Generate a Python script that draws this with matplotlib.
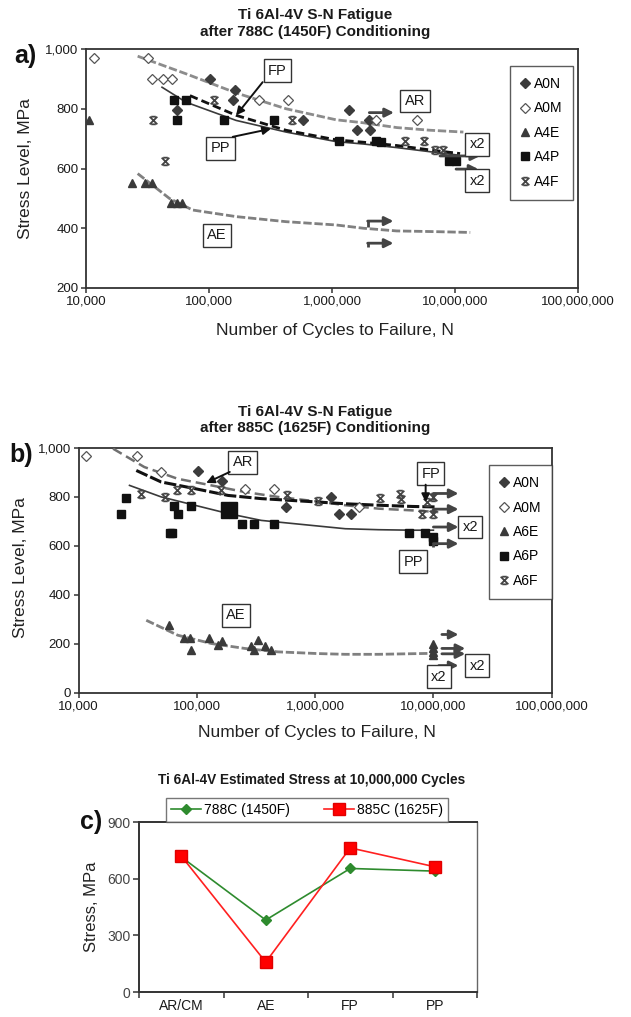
import matplotlib
matplotlib.use('Agg')
import matplotlib.pyplot as plt
from matplotlib.path import Path
from matplotlib.ticker import NullLocator, FixedLocator

plt.rcParams['font.family'] = ['Liberation Sans', 'DejaVu Sans']

# ---------------- data ----------------
xtick_values = [1e4, 1e5, 1e6, 1e7, 1e8]
xtick_labels = ['10,000', '100,000', '1,000,000', '10,000,000', '100,000,000']

# Panel a (788C)
a_A0N_N = [102e3, 162e3, 157e3, 55e3, 578e3, 1.37e6, 1.61e6, 2.04e6, 2.0e6]
a_A0N_S = [898, 863, 830, 797, 761, 797, 728, 728, 761]
a_A0M_N = [11.7e3, 31.7e3, 34.2e3, 42.5e3, 50e3, 254e3, 441e3, 2.3e6, 4.94e6]
a_A0M_S = [969, 969, 898, 898, 898, 830, 830, 761, 761]
a_A4E_N = [10.5e3, 23.7e3, 30.3e3, 34.4e3, 49e3, 54.6e3, 60e3]
a_A4E_S = [761, 553, 553, 553, 486, 486, 486]
a_A4P_N = [51.6e3, 65e3, 55e3, 133e3, 340e3, 1.13e6, 2.3e6, 2.5e6, 9.0e6, 10.2e6]
a_A4P_S = [830, 830, 761, 761, 761, 691, 691, 689, 624, 624]
a_A4F_N = [35.2e3, 43.8e3, 110e3, 473e3, 3.93e6, 5.64e6, 6.9e6, 8.0e6]
a_A4F_S = [761, 624, 830, 761, 691, 691, 661, 661]

a_AR_N = [26.3e3, 65e3, 166e3, 423e3, 1.08e6, 1.8e6, 3.36e6, 6.3e6, 11.7e6]
a_AR_S = [976, 917, 853, 800, 763, 753, 737, 728, 722]
a_FP_N = [70e3, 166e3, 423e3, 1.08e6, 1.8e6, 3.36e6, 6.3e6, 11e6]
a_FP_S = [844, 778, 728, 696, 688, 677, 662, 650]
a_PP_N = [41.5e3, 65e3, 166e3, 423e3, 1.08e6, 1.8e6, 3.36e6, 6.3e6, 10.5e6]
a_PP_S = [872, 822, 761, 722, 690, 682, 670, 656, 645]
a_AE_N = [26.3e3, 34.8e3, 47.6e3, 73.6e3, 166e3, 423e3, 1.08e6, 1.8e6, 3.36e6, 6.3e6, 13.3e6]
a_AE_S = [583, 544, 500, 461, 439, 422, 411, 400, 391, 389, 386]

# Panel b (885C)
b_A0N_N = [103e3, 163e3, 570e3, 1.37e6, 1.58e6, 2.02e6]
b_A0N_S = [903, 865, 758, 799, 728, 728]
b_A0M_N = [11.6e3, 31.4e3, 50e3, 254e3, 449e3, 2.33e6]
b_A0M_S = [965, 965, 901, 830, 830, 758]
b_A6E_N = [57.8e3, 78e3, 87e3, 90e3, 126e3, 151e3, 163e3, 289e3, 304e3, 329e3, 374e3, 427e3,
           10e6, 10e6, 10e6, 10e6]
b_A6E_S = [275, 224, 224, 173, 224, 193, 211, 189, 173, 214, 189, 173, 197, 182, 167, 152]
b_A6P_N = [22.7e3, 25e3, 59e3, 62e3, 64e3, 70e3, 89e3, 174e3, 202e3, 174e3, 202e3, 241e3,
           304e3, 449e3, 6.18e6, 8.55e6, 9.86e6, 9.86e6]
b_A6P_S = [728, 795, 653, 653, 761, 728, 761, 761, 761, 728, 728, 690, 690, 690, 653, 653, 635, 618]
b_A6F_N = [34e3, 54e3, 68e3, 90e3, 161e3, 582e3, 1.06e6, 3.56e6, 5.25e6, 5.35e6, 8e6, 9.86e6,
           8.8e6, 9.86e6]
b_A6F_S = [812, 799, 829, 829, 829, 806, 781, 796, 812, 792, 731, 731, 780, 800]

b_AR_N = [19.6e3, 36e3, 69e3, 133e3, 254e3, 485e3, 1.06e6, 1.8e6, 3.44e6, 6.6e6, 11e6]
b_AR_S = [996, 921, 873, 846, 819, 799, 780, 765, 751, 744, 737]
b_FP_N = [30.8e3, 50e3, 96e3, 184e3, 351e3, 1.06e6, 1.8e6, 3.44e6, 6.6e6, 10.5e6]
b_FP_S = [907, 860, 833, 805, 792, 778, 771, 765, 760, 758]
b_PP_N = [27e3, 50e3, 96e3, 184e3, 351e3, 1.06e6, 1.8e6, 3.44e6, 6.6e6, 10e6]
b_PP_S = [846, 799, 765, 731, 703, 680, 669, 665, 663, 663]
b_AE_N = [37.4e3, 69e3, 133e3, 254e3, 485e3, 1.06e6, 1.8e6, 3.44e6, 10e6]
b_AE_S = [295, 234, 200, 180, 166, 159, 156, 156, 160]

# Panel c
c_categories = ['AR/CM', 'AE', 'FP', 'PP']
c_788 = [715, 381, 654, 640]
c_885 = [720, 158, 763, 663]

# annotations (label, N, S)
a_boxes = [("FP", 361e3, 928), ("PP", 124e3, 667), ("AE", 116e3, 376),
           ("AR", 4.73e6, 826), ("x2", 15.2e6, 681), ("x2", 15.2e6, 559)]
a_pointers = [((273e3, 889), (166e3, 778)), ((156e3, 706), (319e3, 733))]
a_runouts = [(2.01e6, 3.19e6, 787, 0), (7.55e6, 16e6, 642, 0), (10.2e6, 15.5e6, 598, 0),
             (1.95e6, 3.16e6, 424, 19), (1.95e6, 3.16e6, 350, 14)]

b_boxes = [("AR", 245e3, 941), ("AE", 213e3, 316), ("FP", 9.49e6, 894), ("PP", 6.77e6, 535),
           ("x2", 20.5e6, 676), ("x2", 23.5e6, 109), ("x2", 11.1e6, 64)]
b_pointers = [((190e3, 901), (120e3, 856)), ((8.6e6, 849), (8.6e6, 778))]
b_runouts = [(10e6, 16.3e6, 813, 27), (10e6, 16.3e6, 749, 20), (10e6, 16.3e6, 676, 0),
             (10e6, 16.3e6, 608, 15), (11.8e6, 16.3e6, 237, 0), (11.8e6, 18.6e6, 180, 0),
             (11.8e6, 18.6e6, 158, 0), (11.1e6, 16.3e6, 110, 0)]

# ---------------- figure ----------------
W, H = 631, 1017
fig = plt.figure(figsize=(W / 100, H / 100), dpi=100)


def ax_from_px(l, t, r, b):
    return fig.add_axes([l / W, 1 - b / H, (r - l) / W, (b - t) / H])


axa = ax_from_px(86, 49, 578, 288)
axb = ax_from_px(78.5, 447.7, 551.7, 692.5)
axc = ax_from_px(139, 822, 477, 992)

star = Path([(-1, -1), (1, 1), (-1, 1), (1, -1), (-0.6, 1), (0.6, 1), (-0.6, -1), (0.6, -1)],
            [Path.MOVETO, Path.LINETO] * 4)

TXT = '#1a1a1a'


def style_sn(ax, ylim, yticks):
    ax.set_xscale('log')
    ax.set_xlim(1e4, 1e8)
    ax.set_ylim(*ylim)
    ax.xaxis.set_major_locator(FixedLocator(xtick_values))
    ax.set_xticklabels(xtick_labels)
    ax.xaxis.set_minor_locator(NullLocator())
    ax.set_yticks(yticks)
    ax.set_yticklabels([f'{v:,}' for v in yticks])
    ax.tick_params(direction='out', length=3.5, width=1.1, labelsize=9.5, colors='#333',
                   labelcolor=TXT, pad=2)
    for sp in ax.spines.values():
        sp.set_color('#333')
        sp.set_linewidth(1.3)


def series(ax, names, data):
    styles = [
        dict(marker='D', ms=4.6, mfc='#3c3c3c', mec='#3c3c3c'),
        dict(marker='D', ms=4.6, mfc='white', mec='#555555', mew=0.9),
        dict(marker='^', ms=6, mfc='#3a3a3a', mec='#3a3a3a'),
        dict(marker='s', ms=5.6, mfc='#111111', mec='#111111'),
        dict(marker=star, ms=5.5, mfc='none', mec='#444444', mew=1.3),
    ]
    handles = []
    for nm, (xs, ys), st in zip(names, data, styles):
        h, = ax.plot(xs, ys, ls='none', label=nm, zorder=4, **st)
        handles.append(h)
    return handles


def boxes(ax, items, fs=10.5):
    for lab, x, y in items:
        ax.text(x, y, lab, ha='center', va='center', fontsize=fs, color=TXT, zorder=6,
                bbox=dict(boxstyle='square,pad=0.3', fc='white', ec='#333', lw=1.0))


def pointers(ax, items):
    for tail, tip in items:
        ax.annotate('', xy=tip, xytext=tail, zorder=7,
                    arrowprops=dict(arrowstyle='-|>', color='#111', lw=1.4,
                                    mutation_scale=12, shrinkA=0, shrinkB=0))


def runouts(ax, items):
    for x0, x1, y, hook in items:
        if hook:
            ax.plot([x0, x0], [y - hook, y], color='#444', lw=2, solid_capstyle='butt', zorder=5)
        ax.annotate('', xy=(x1, y), xytext=(x0, y), zorder=5,
                    arrowprops=dict(arrowstyle='-|>', color='#444', lw=2,
                                    mutation_scale=13, shrinkA=0, shrinkB=0))


# ---- panel a ----
style_sn(axa, (200, 1000), [200, 400, 600, 800, 1000])
axa.plot(a_AR_N, a_AR_S, color='#8c8c8c', lw=2, ls=(0, (3, 1)), zorder=3)
axa.plot(a_AE_N, a_AE_S, color='#808080', lw=2, ls=(0, (3, 1)), zorder=3)
axa.plot(a_PP_N, a_PP_S, color='#3a3a3a', lw=1.2, zorder=3)
axa.plot(a_FP_N, a_FP_S, color='#111', lw=2, ls=(0, (3, 1.5)), zorder=3)
ha = series(axa, ['A0N', 'A0M', 'A4E', 'A4P', 'A4F'],
            [(a_A0N_N, a_A0N_S), (a_A0M_N, a_A0M_S), (a_A4E_N, a_A4E_S),
             (a_A4P_N, a_A4P_S), (a_A4F_N, a_A4F_S)])
runouts(axa, a_runouts)
boxes(axa, a_boxes)
pointers(axa, a_pointers)
leg = axa.legend(handles=ha, loc='upper left', bbox_to_anchor=(0.862, 0.929), fontsize=10,
                 frameon=True, fancybox=False, edgecolor='#333', handlelength=0.6,
                 handletextpad=0.3, labelspacing=0.75, borderpad=0.8, borderaxespad=0)
leg.get_frame().set_linewidth(1.0)

# ---- panel b ----
style_sn(axb, (0, 1000), [0, 200, 400, 600, 800, 1000])
axb.plot(b_AR_N, b_AR_S, color='#707070', lw=1.8, ls=(0, (4, 2)), zorder=3)
axb.plot(b_AE_N, b_AE_S, color='#808080', lw=2, ls=(0, (3, 1)), zorder=3)
axb.plot(b_PP_N, b_PP_S, color='#3a3a3a', lw=1.2, zorder=3)
axb.plot(b_FP_N, b_FP_S, color='#111', lw=2.2, ls=(0, (4, 1)), zorder=3)
hb = series(axb, ['A0N', 'A0M', 'A6E', 'A6P', 'A6F'],
            [(b_A0N_N, b_A0N_S), (b_A0M_N, b_A0M_S), (b_A6E_N, b_A6E_S),
             (b_A6P_N, b_A6P_S), (b_A6F_N, b_A6F_S)])
runouts(axb, b_runouts)
boxes(axb, b_boxes)
pointers(axb, b_pointers)
leg = axb.legend(handles=hb, loc='upper left', bbox_to_anchor=(0.8675, 0.929), fontsize=10,
                 frameon=True, fancybox=False, edgecolor='#333', handlelength=0.6,
                 handletextpad=0.3, labelspacing=0.75, borderpad=0.8, borderaxespad=0)
leg.get_frame().set_linewidth(1.0)

# ---- titles / labels for a, b ----
for (ycen, txt) in [(23.5, 'Ti 6Al-4V S-N Fatigue\nafter 788C (1450F) Conditioning'),
                    (420, 'Ti 6Al-4V S-N Fatigue\nafter 885C (1625F) Conditioning')]:
    fig.text(315 / W, 1 - ycen / H, txt, ha='center', va='center', fontsize=11,
             fontweight='bold', color=TXT, linespacing=1.25)

fig.text(335 / W, 1 - 330 / H, 'Number of Cycles to Failure, N', ha='center', va='center',
         fontsize=12.5, color='#222')
fig.text(317 / W, 1 - 732 / H, 'Number of Cycles to Failure, N', ha='center', va='center',
         fontsize=12.5, color='#222')
fig.text(26 / W, 1 - 168.5 / H, 'Stress Level, MPa', ha='center', va='center', rotation=90,
         fontsize=12.5, color='#222')
fig.text(21 / W, 1 - 568 / H, 'Stress Level, MPa', ha='center', va='center', rotation=90,
         fontsize=12.5, color='#222')
fig.text(25 / W, 1 - 56 / H, 'a)', ha='center', va='center', fontsize=18, fontweight='bold',
         color='#111')
fig.text(21 / W, 1 - 455 / H, 'b)', ha='center', va='center', fontsize=18, fontweight='bold',
         color='#111')

# ---- panel c ----
xc = list(range(len(c_categories)))
l1, = axc.plot(xc, c_788, color='#2e8b2e', lw=1.2, marker='D', ms=5.5, mfc='#2e8b2e',
               mec='#2e8b2e', label='788C (1450F)', zorder=3)
l2, = axc.plot(xc, c_885, color='#ff2020', lw=1.2, marker='s', ms=8, mfc='#ff0000',
               mec='#e00000', label='885C (1625F)', zorder=4)
axc.set_xlim(-0.5, len(c_categories) - 0.5)
axc.set_ylim(0, 900)
axc.set_yticks([0, 300, 600, 900])
axc.set_xticks(xc)
axc.set_xticklabels(c_categories)
axc.xaxis.set_minor_locator(FixedLocator([i - 0.5 for i in range(len(c_categories) + 1)]))
axc.tick_params(axis='x', which='major', length=0, labelsize=10, labelcolor=TXT, pad=5)
axc.tick_params(axis='x', which='minor', direction='out', length=4, width=1.1, color='#333')
axc.tick_params(axis='y', direction='out', length=4, width=1.1, color='#333', labelsize=10,
                labelcolor='#444', pad=2)
for nm, sp in axc.spines.items():
    sp.set_color('#333' if nm != 'right' else '#666')
    sp.set_linewidth(1.4 if nm in ('left', 'bottom', 'top') else 1.0)
axc.set_ylabel('Stress, MPa', fontsize=12, color='#222', labelpad=6)
legc = axc.legend(handles=[l1, l2], loc='lower left', bbox_to_anchor=(0.08, 1.0, 0.834, 0.16),
                  mode='expand', ncol=2, fontsize=10, frameon=True, fancybox=False,
                  edgecolor='#555', handlelength=2.2, handletextpad=0.2, borderaxespad=0,
                  borderpad=0.35, columnspacing=1.5)
legc.get_frame().set_linewidth(1.0)
fig.text(312 / W, 1 - 780 / H, 'Ti 6Al-4V Estimated Stress at 10,000,000 Cycles', ha='center',
         va='center', fontsize=9.8, fontweight='bold', color=TXT)
fig.text(91 / W, 1 - 822 / H, 'c)', ha='center', va='center', fontsize=18, fontweight='bold',
         color='#111')

fig.savefig('out.png', dpi=100)
